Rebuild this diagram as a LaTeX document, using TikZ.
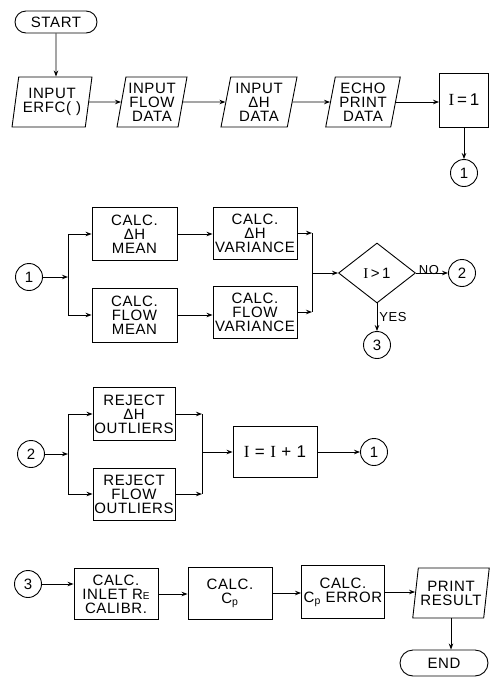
\documentclass[tikz,border=0pt]{standalone}
\usepackage{fontspec}
\setmainfont{Liberation Sans}[LetterSpace=4]
\newfontfamily\serifI{Liberation Serif}
\usetikzlibrary{shapes.geometric,shapes.misc,arrows.meta}
\newcommand\Ivar{{\serifI I}}
\begin{document}
\begin{tikzpicture}[x=1pt,y=-1pt, line width=0.9pt,
 >={Stealth[length=6pt,width=4.5pt]},
 every node/.style={font=\fontsize{15}{14}\selectfont, inner sep=0pt, align=center},
 proc/.style={draw, rectangle, minimum width=84pt, minimum height=52pt},
 io/.style={draw, trapezium, trapezium left angle=78, trapezium right angle=102, trapezium stretches=true, minimum width=#1, minimum height=50pt},
 term/.style={draw, rounded rectangle, minimum height=22pt},
 conn/.style={draw, circle, minimum size=27pt},
 dec/.style={draw, diamond, minimum width=77pt, minimum height=60pt},
 lbl/.style={font=\fontsize{13}{13}\selectfont},
 big/.style={font=\fontsize{17}{17}\selectfont}
]
\useasboundingbox (0,0) rectangle (490,678);
% row 1
\node[term, minimum width=82pt] (start) at (56,22) {START};
\node[io=80pt] (in1) at (52,102) {INPUT\\ERFC(\,\,)};
\node[io=70pt] (in2) at (152,102) {INPUT\\FLOW\\DATA};
\node[io=76pt] (in3) at (259,102) {INPUT\\ΔH\\DATA};
\node[io=75pt] (in4) at (363,102) {ECHO\\PRINT\\DATA};
\node[proc, big, minimum width=49pt, minimum height=54pt] (i1) at (464,100) {\Ivar\,=\,1};
\node[conn] (c1a) at (464,173) {1};
\draw[->] (start) -- (start |- in1.north);
\draw[->] (in1) -- (in2);
\draw[->] (in2) -- (in3);
\draw[->] (in3) -- (in4);
\draw[->] (in4.east) -- (in4.east -| i1.west);
\draw[->] (i1) -- (c1a);
% row 2
\node[conn] (c1b) at (29,277) {1};
\coordinate (j1) at (68,277);
\node[proc, minimum width=85pt, minimum height=53pt] (m1) at (134.5,234) {CALC.\\ΔH\\MEAN};
\node[proc, minimum width=85pt, minimum height=54pt] (m2) at (134.5,315) {CALC.\\FLOW\\MEAN};
\node[proc] (v1) at (255,233) {CALC.\\ΔH\\VARIANCE};
\node[proc] (v2) at (255,312) {CALC.\\FLOW\\VARIANCE};
\coordinate (k1) at (312,273);
\node[dec] (d) at (377,273) {\Ivar\,>\,1};
\node[conn] (c2a) at (462,273) {2};
\node[conn] (c3a) at (377,345) {3};
\draw[->] (c1b) -- (j1);
\draw[->] (j1) |- (m1.west);
\draw[->] (j1) |- (m2.west);
\draw[->] (m1.east) -- (m1.east -| v1.west);
\draw[->] (m2.east) -- (m2.east -| v2.west);
\draw[->] (v1.east) -- (v1.east -| k1);
\draw[->] (v2.east) -- (v2.east -| k1);
\draw (v1.east -| k1) -- (v2.east -| k1);
\draw[->] (k1) -- (d.west);
\draw[->] (d.east) -- node[lbl, above, yshift=-2pt, xshift=-3pt]{NO} (c2a);
\draw[->] (d.south) -- node[lbl, right, xshift=2pt]{YES} (c3a);
% row 3
\node[conn] (c2b) at (31,454) {2};
\coordinate (j2) at (68,454);
\node[proc, minimum width=82pt, minimum height=53pt] (r1) at (134,414) {REJECT\\ΔH\\OUTLIERS};
\node[proc, minimum width=82pt, minimum height=52pt] (r2) at (134,494) {REJECT\\FLOW\\OUTLIERS};
\coordinate (k2) at (202,452);
\node[proc, big, minimum width=84pt, minimum height=51pt] (inc) at (275,452) {\Ivar\ =\ \Ivar\ +\ 1};
\node[conn] (c1c) at (374,452) {1};
\draw[->] (c2b) -- (j2);
\draw[->] (j2) |- (r1.west);
\draw[->] (j2) |- (r2.west);
\draw[->] (r1.east) -- (r1.east -| k2);
\draw[->] (r2.east) -- (r2.east -| k2);
\draw (r1.east -| k2) -- (r2.east -| k2);
\draw[->] (k2) -- (inc.west);
\draw[->] (inc) -- (c1c);
% row 4
\node[conn] (c3b) at (28,584) {3};
\node[proc, minimum width=84pt, minimum height=51pt] (cal) at (116,594) {CALC.\\INLET R{\fontsize{10}{10}\selectfont E}\\CALIBR.};
\node[proc, minimum height=52pt] (cp) at (230,593) {CALC.\\C\textsubscript{p}};
\node[proc, minimum width=83pt, minimum height=53pt] (ce) at (343,592) {CALC.\\C\textsubscript{p} ERROR};
\node[io=77pt] (pr) at (451,593) {PRINT\\RESULT};
\node[term, minimum width=88pt, minimum height=26pt] (fin) at (444,663) {END};
\draw[->] (c3b) -- (c3b -| cal.west);
\draw[->] (cal.east) -- (cal.east -| cp.west);
\draw[->] (cp.east) -- (cp.east -| ce.west);
\draw[->] (ce.east) -- (ce.east -| pr.west);
\draw[->] (pr.south) -- (pr.south |- fin.north);
\end{tikzpicture}
\end{document}
